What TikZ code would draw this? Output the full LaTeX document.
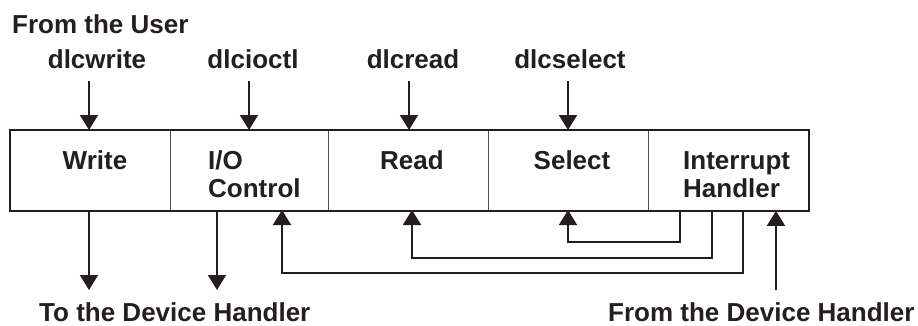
\documentclass[tikz,border=0pt]{standalone}
\usepackage{fontspec}
\setmainfont{Liberation Sans}
\usetikzlibrary{arrows.meta}
\definecolor{ink}{HTML}{231F20}
\begin{document}
\begin{tikzpicture}[x=1pt,y=-1pt,
  txt/.style={font=\fontsize{26}{28}\selectfont\bfseries, text=ink, inner sep=0pt},
  cell/.style={draw=ink!80, line width=0.9pt, minimum height=80pt, inner sep=0pt, anchor=north west},
  arr/.style={draw=ink, line width=2pt, -{Triangle[width=18pt,length=15pt]}},
  frame/.style={draw=ink, line width=2pt}]
\useasboundingbox (0,0) rectangle (918,325);
% cells
\node[cell, minimum width=160pt] (w) at (10,130) {};
\node[cell, minimum width=158pt] (io) at (170,130) {};
\node[cell, minimum width=160pt] (rd) at (328,130) {};
\node[cell, minimum width=160pt] (sel) at (488,130) {};
\node[cell, minimum width=160pt] (ih) at (648,130) {};
\draw[frame] (w.north west) rectangle (ih.south east);
% cell texts
\node[txt, anchor=base] (tw) at (95,169) {Write};
\node[txt, anchor=base west] (tio) at (208,169) {\begin{tabular}[t]{@{}l@{}}I/O\\Control\end{tabular}};
\node[txt, anchor=base] (tr) at (412,169) {Read};
\node[txt, anchor=base] (ts) at (572,169) {Select};
\node[txt, anchor=base west] (tih) at (683,169) {\begin{tabular}[t]{@{}l@{}}Interrupt\\Handler\end{tabular}};
% outside labels
\node[txt, anchor=base west] (user) at (12,33) {From the User};
\node[txt, anchor=base] (lw) at (97,68) {dlcwrite};
\node[txt, anchor=base] (lio) at (253,68) {dlcioctl};
\node[txt, anchor=base] (lr) at (413,68) {dlcread};
\node[txt, anchor=base] (ls) at (570,68) {dlcselect};
\node[txt, text depth=0pt, anchor=base west] (todev) at (39,321) {To the Device Handler};
\node[txt, text depth=0pt, anchor=base west] (fromdev) at (608,321) {From the Device Handler};
% input arrows
\coordinate (aw) at (89,81);
\coordinate (aio) at (249,81);
\coordinate (ard) at (409,81);
\coordinate (asel) at (568,81);
\draw[arr] (aw) -- (aw |- w.north);
\draw[arr] (aio) -- (aio |- io.north);
\draw[arr] (ard) -- (ard |- rd.north);
\draw[arr] (asel) -- (asel |- sel.north);
% output arrows
\coordinate (dw) at (89,290);
\coordinate (dio) at (217,290);
\draw[arr] (dw |- w.south) -- (dw);
\draw[arr] (dio |- io.south) -- (dio);
% from device
\coordinate (udev) at (776,290);
\draw[arr] (udev) -- (udev |- ih.south);
% feedback loops
\coordinate (f1) at (680,242);
\coordinate (f2) at (712,258);
\coordinate (f3) at (743,273);
\coordinate (e1) at (568,210);
\coordinate (e2) at (412,210);
\coordinate (e3) at (282,210);
\draw[arr] (f1 |- ih.south) -- (f1) -| (e1);
\draw[arr] (f2 |- ih.south) -- (f2) -| (e2);
\draw[arr] (f3 |- ih.south) -- (f3) -| (e3);
\end{tikzpicture}
\end{document}
